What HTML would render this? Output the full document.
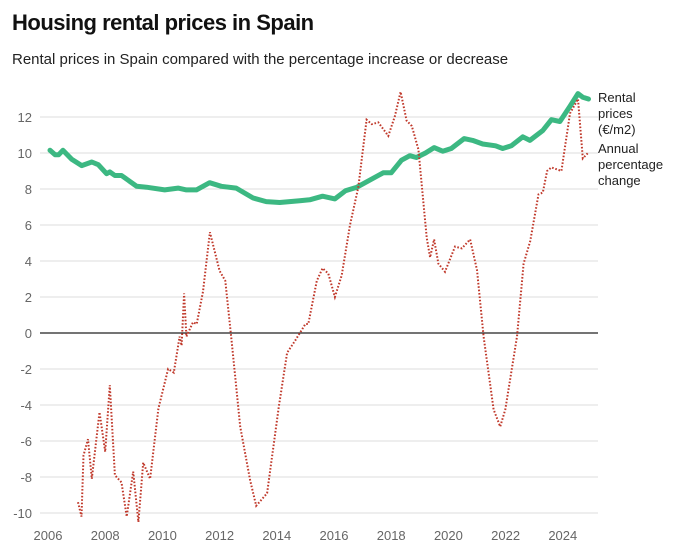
<!DOCTYPE html>
<html><head><meta charset="utf-8"><style>
body{margin:0;background:#fff;font-family:"Liberation Sans",sans-serif}
svg{display:block}
</style></head><body>
<svg id="chart" width="675" height="552">
<text x="12" y="30" font-size="22" font-weight="bold" fill="#111" style="letter-spacing:-0.5px">Housing rental prices in Spain</text>
<text x="12" y="64" font-size="15" fill="#222">Rental prices in Spain compared with the percentage increase or decrease</text>
<g id="grid"></g><g id="marks"></g>
<g font-size="13" fill="#222">
<text x="598" y="102"><tspan x="598">Rental</tspan><tspan x="598" dy="16">prices</tspan><tspan x="598" dy="16">(€/m2)</tspan></text>
<text x="598" y="153"><tspan x="598">Annual</tspan><tspan x="598" dy="16">percentage</tspan><tspan x="598" dy="16">change</tspan></text>
</g>
</svg>
<script>
const yTicks=[12,10,8,6,4,2,0,-2,-4,-6,-8,-10];
const xTicks=[2006,2008,2010,2012,2014,2016,2018,2020,2022,2024];
const priceYears=[2006.07,2006.25,2006.37,2006.52,2006.83,2007.18,2007.53,2007.76,2008.05,2008.16,2008.34,2008.57,2009.1,2009.44,2010.08,2010.55,2010.84,2011.19,2011.65,2012.06,2012.58,2013.17,2013.63,2014.1,2014.8,2015.15,2015.6,2016.03,2016.4,2016.8,2017.72,2018.0,2018.36,2018.65,2018.88,2019.2,2019.5,2019.8,2020.1,2020.55,2020.85,2021.2,2021.65,2021.9,2022.2,2022.6,2022.85,2023.3,2023.6,2023.9,2024.25,2024.53,2024.7,2024.9];
const priceValues=[10.15,9.9,9.9,10.15,9.65,9.3,9.5,9.35,8.85,8.95,8.75,8.75,8.15,8.1,7.95,8.05,7.95,7.95,8.35,8.15,8.05,7.5,7.3,7.25,7.35,7.4,7.6,7.45,7.9,8.1,8.9,8.9,9.6,9.85,9.75,10.0,10.3,10.1,10.25,10.8,10.7,10.5,10.4,10.25,10.4,10.9,10.7,11.25,11.85,11.75,12.6,13.3,13.1,13.0];
const changeYears=[2007.05,2007.17,2007.24,2007.4,2007.53,2007.8,2008.0,2008.16,2008.34,2008.57,2008.75,2008.98,2009.16,2009.33,2009.57,2009.86,2010.2,2010.4,2010.6,2010.67,2010.76,2010.84,2011.07,2011.2,2011.42,2011.66,2012.0,2012.2,2012.43,2012.72,2013.07,2013.28,2013.66,2014.07,2014.36,2014.65,2015.0,2015.1,2015.4,2015.6,2015.8,2016.03,2016.27,2016.56,2016.85,2017.14,2017.32,2017.55,2017.9,2018.13,2018.33,2018.54,2018.72,2018.95,2019.24,2019.36,2019.5,2019.65,2019.88,2020.23,2020.47,2020.76,2021.0,2021.23,2021.58,2021.81,2021.99,2022.4,2022.63,2022.86,2023.15,2023.3,2023.45,2023.6,2023.95,2024.25,2024.53,2024.7,2024.88];
const changeValues=[-9.4,-10.2,-6.8,-5.9,-8.1,-4.4,-6.6,-2.9,-7.9,-8.3,-10.2,-7.7,-10.5,-7.2,-8.1,-4.2,-2.0,-2.2,-0.2,-0.7,2.2,-0.2,0.6,0.5,2.3,5.6,3.45,2.9,-0.6,-5.2,-8.2,-9.6,-8.9,-4.1,-1.1,-0.4,0.5,0.5,2.9,3.6,3.3,2.0,3.2,6.0,8.1,11.85,11.6,11.7,10.95,12.05,13.4,11.8,11.5,10.2,5.3,4.2,5.2,3.85,3.4,4.8,4.7,5.2,3.5,-0.2,-4.25,-5.2,-4.25,-0.2,3.85,5.1,7.7,7.8,9.0,9.2,9.0,12.2,13.0,9.7,10.0];
const xS=y=>48+(y-2006)*28.6;
const yS=v=>333-v*18;
const NS="http://www.w3.org/2000/svg";
const grid=document.getElementById('grid'),marks=document.getElementById('marks');
yTicks.forEach(t=>{
 const l=document.createElementNS(NS,'line');
 
 
 l.setAttribute('x1',40);l.setAttribute('x2',598);l.setAttribute('y1',yS(t));l.setAttribute('y2',yS(t));
 l.setAttribute('stroke',t===0?'#222':'#dedede');l.setAttribute('stroke-width',t===0?1.3:1);
 grid.appendChild(l);
 const tx=document.createElementNS(NS,'text');
 
 
 tx.setAttribute('x',32);tx.setAttribute('y',yS(t)+5);tx.setAttribute('text-anchor','end');
 tx.setAttribute('font-size','13');tx.setAttribute('fill','#666');tx.textContent=t;
 grid.appendChild(tx);
});
xTicks.forEach(t=>{
 const tx=document.createElementNS(NS,'text');
 
 
 tx.setAttribute('x',xS(t));tx.setAttribute('y',540);tx.setAttribute('text-anchor','middle');
 tx.setAttribute('font-size','13');tx.setAttribute('fill','#666');tx.textContent=t;
 grid.appendChild(tx);
});
function path(xs,vs){return xs.map((x,i)=>(i?'L':'M')+xS(x).toFixed(1)+','+yS(vs[i]).toFixed(1)).join('');}
const pc=document.createElementNS(NS,'path');


pc.setAttribute('d',path(changeYears,changeValues));pc.setAttribute('fill','none');
pc.setAttribute('stroke','#c0392b');pc.setAttribute('stroke-width','2');pc.setAttribute('stroke-dasharray','1.6 1.8');
marks.appendChild(pc);
const pp=document.createElementNS(NS,'path');


pp.setAttribute('d',path(priceYears,priceValues));pp.setAttribute('fill','none');
pp.setAttribute('stroke','#3cb882');pp.setAttribute('stroke-width','5');pp.setAttribute('stroke-linejoin','round');pp.setAttribute('stroke-linecap','round');
marks.insertBefore(pp,pc);
</script>
</body></html>
